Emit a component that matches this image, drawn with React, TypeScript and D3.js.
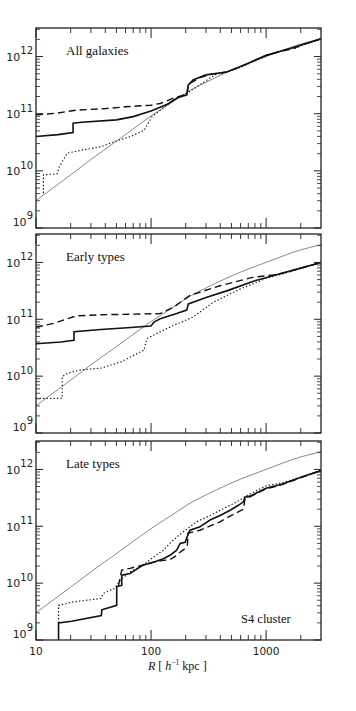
import React from 'react';
import * as d3 from 'd3';

const W = 356;
const H = 711;
const X0 = 36;
const X1 = 321;
const panelTops = [28, 234, 441];
const panelBottoms = [228, 433, 640];

const xDomain: [number, number] = [10, 3000];
const yDomain: [number, number] = [1e9, 3.162e12];

const xMajorTicks = [10, 100, 1000];
const xTickLabels = ['10', '100', '1000'];
const yMajorExps = [9, 10, 11, 12];
const panelNames = ['All galaxies', 'Early types', 'Late types'];
const clusterLabel = 'S4 cluster';

type P = [number, number];

// thin model curve, identical in all panels: [R (h^-1 kpc), M]
const modelCurve: P[] = [
  [10, 3.02e9], [20, 8.51e9], [30, 1.58e10], [50, 3.31e10], [80, 6.61e10], [100, 9.12e10],
  [150, 1.55e11], [220, 2.57e11], [300, 3.55e11], [600, 6.76e11], [1000, 1.0e12],
  [2000, 1.66e12], [3000, 2.04e12],
];

// All galaxies
const allSolid: P[] = [
  [10, 4.0e10], [15.6, 4.3e10], [21, 4.7e10], [21, 6.8e10], [25, 7.1e10], [50, 7.8e10],
  [70, 8.9e10], [100, 1.12e11], [140, 1.48e11], [170, 1.9e11], [205, 2.14e11], [210, 3.16e11],
  [232, 3.89e11], [300, 4.79e11], [455, 5.37e11], [594, 6.61e11], [1000, 1.05e12],
  [1618, 1.38e12], [3000, 2.04e12],
];
const allDashed: P[] = [
  [10, 9.55e10], [15, 1.02e11], [22, 1.15e11], [40, 1.23e11], [60, 1.32e11], [100, 1.41e11],
  [120, 1.51e11], [155, 1.86e11], [175, 2.0e11], [205, 2.19e11], [212, 3.31e11], [266, 4.27e11],
  [330, 4.9e11], [455, 5.37e11], [594, 6.61e11], [1000, 1.05e12], [1400, 1.26e12],
  [1700, 1.35e12], [2000, 1.58e12], [3000, 2.04e12],
];
const allDotted: P[] = [
  [11.6, 4.07e9], [11.6, 8.51e9], [15.3, 8.9e9], [15.9, 1.17e10], [18.7, 2.04e10], [24.5, 2.29e10],
  [36.6, 2.63e10], [47.7, 3.24e10], [66.5, 3.98e10], [86.9, 5.13e10], [102, 8.91e10],
  [120, 1.15e11], [155, 1.74e11], [205, 2.29e11], [307, 3.89e11], [360, 4.79e11], [455, 5.37e11],
  [594, 6.46e11], [1000, 1.02e12], [1500, 1.35e12], [1800, 1.41e12], [2200, 1.66e12], [3000, 2.04e12],
];

// Early types
const earlySolid: P[] = [
  [10, 3.72e10], [16.4, 3.98e10], [21.4, 4.27e10], [21.4, 6.03e10], [36.6, 6.61e10], [62, 7.08e10],
  [100, 7.59e10], [106, 8.91e10], [120, 1.02e11], [167, 1.26e11], [204, 1.45e11], [211, 1.86e11],
  [305, 2.45e11], [455, 3.16e11], [776, 4.68e11], [1324, 6.31e11], [2000, 7.94e11], [3000, 1.0e12],
];
const earlyDashed: P[] = [
  [10, 7.24e10], [14.4, 8.5e10], [18, 1.0e11], [22.6, 1.15e11], [36.6, 1.2e11], [120, 1.26e11],
  [156, 1.62e11], [218, 2.63e11], [398, 3.89e11], [776, 5.5e11], [1156, 6.03e11], [1324, 6.31e11],
  [2000, 7.94e11], [3000, 1.0e12],
];
const earlyDotted: P[] = [
  [10, 4.07e9], [16.9, 4.07e9], [16.9, 9.77e9], [18.7, 1.12e10], [24.5, 1.29e10], [36.6, 1.38e10],
  [54.6, 1.78e10], [86.9, 2.88e10], [92, 4.57e10], [112, 5.62e10], [156, 7.76e10], [233, 1.1e11],
  [348, 2.0e11], [594, 3.39e11], [1000, 5.25e11], [1514, 6.61e11], [2000, 7.94e11], [3000, 1.0e12],
];

// Late types
const lateSolid: P[] = [
  [15.7, 1.0e9], [15.7, 2.0e9], [20.4, 2.14e9], [37, 2.69e9], [37.3, 3.39e9], [50.3, 4.07e9],
  [50.3, 8.71e9], [55.6, 9.12e9], [55.6, 1.38e10], [65.6, 1.48e10], [80, 1.91e10], [86, 2.09e10],
  [105, 2.34e10], [128, 2.69e10], [146, 3.09e10], [167, 3.8e10], [179, 5.01e10], [198, 5.25e10],
  [211, 7.41e10], [218, 8.51e10], [266, 9.77e10], [326, 1.29e11], [398, 1.55e11], [487, 1.91e11],
  [574, 2.34e11], [635, 2.69e11], [656, 3.24e11], [727, 3.39e11], [1000, 4.68e11], [1413, 5.62e11],
  [1977, 7.24e11], [3000, 9.55e11],
];
const lateDashed: P[] = [
  [52, 8.91e9], [55.6, 1.7e10], [65.6, 1.82e10], [85.7, 2.09e10], [105, 2.34e10], [128, 2.51e10],
  [145, 2.57e10], [162, 2.95e10], [170, 3.24e10], [198, 4.07e10], [207, 4.68e10], [210, 7.59e10],
  [266, 8.51e10], [305, 9.55e10], [398, 1.2e11], [487, 1.51e11], [594, 1.86e11], [640, 2.0e11],
  [650, 2.88e11], [727, 3.31e11], [1000, 4.57e11], [1200, 5.01e11], [1413, 5.5e11], [1977, 7.08e11],
  [3000, 9.55e11],
];
const lateDotted: P[] = [
  [15.7, 2.0e9], [15.7, 4.07e9], [21.1, 4.68e9], [36.6, 5.37e9], [38.5, 6.61e9], [48.6, 8.13e9],
  [53.7, 1.12e10], [65.6, 1.58e10], [85.7, 2.09e10], [105, 2.88e10], [128, 3.8e10], [146, 5.01e10],
  [167, 6.46e10], [198, 8.51e10], [249, 1.2e11], [326, 1.55e11], [425, 2.04e11], [556, 2.69e11],
  [679, 3.47e11], [1000, 5.13e11], [1400, 5.89e11], [1977, 7.24e11], [3000, 9.55e11],
];

const panelSeries = [
  { solid: allSolid, dashed: allDashed, dotted: allDotted },
  { solid: earlySolid, dashed: earlyDashed, dotted: earlyDotted },
  { solid: lateSolid, dashed: lateDashed, dotted: lateDotted },
];

const TICK_FONT = "'DejaVu Sans', sans-serif";
const SERIF = "'Liberation Serif', 'Times New Roman', serif";

function Panel({ idx }: { idx: number }) {
  const top = panelTops[idx];
  const bottom = panelBottoms[idx];
  const x = d3.scaleLog().domain(xDomain).range([X0, X1]);
  const y = d3.scaleLog().domain(yDomain).range([bottom, top]);
  const lin = d3.line<P>().x((d) => x(d[0])).y((d) => y(d[1]));
  const smooth = d3.line<P>().x((d) => x(d[0])).y((d) => y(d[1])).curve(d3.curveMonotoneX);
  const s = panelSeries[idx];
  const clipId = `clip${idx}`;

  const xMinor: number[] = [];
  for (let e = 1; e <= 3; e++) {
    for (let m = 2; m <= 9; m++) {
      const v = m * Math.pow(10, e);
      if (v < xDomain[1]) xMinor.push(v);
    }
  }
  const yMinor: number[] = [];
  for (let e = 9; e <= 12; e++) {
    for (let m = 2; m <= 9; m++) {
      const v = m * Math.pow(10, e);
      if (v < yDomain[1]) yMinor.push(v);
    }
  }
  const stroke = '#222';
  return (
    <g>
      <defs>
        <clipPath id={clipId}>
          <rect x={X0} y={top} width={X1 - X0} height={bottom - top} />
        </clipPath>
      </defs>
      <g clipPath={`url(#${clipId})`}>
        <path d={smooth(modelCurve) || ''} fill="none" stroke="#555" strokeWidth={0.7} />
        <path d={lin(s.dotted) || ''} fill="none" stroke="#111" strokeWidth={1.2} strokeDasharray="1.3,2.2" />
        <path d={lin(s.dashed) || ''} fill="none" stroke="#111" strokeWidth={1.4} strokeDasharray="7,4" />
        <path d={lin(s.solid) || ''} fill="none" stroke="#111" strokeWidth={1.6} />
      </g>
      {xMajorTicks.map((t) => (
        <g key={`xm${t}`}>
          <line x1={x(t)} x2={x(t)} y1={top} y2={top + 10} stroke={stroke} strokeWidth={1} />
          <line x1={x(t)} x2={x(t)} y1={bottom} y2={bottom - 10} stroke={stroke} strokeWidth={1} />
        </g>
      ))}
      {xMinor.map((t) => (
        <g key={`xn${t}`}>
          <line x1={x(t)} x2={x(t)} y1={top} y2={top + 5} stroke={stroke} strokeWidth={0.9} />
          <line x1={x(t)} x2={x(t)} y1={bottom} y2={bottom - 5} stroke={stroke} strokeWidth={0.9} />
        </g>
      ))}
      {yMajorExps.map((e) => {
        const yy = y(Math.pow(10, e));
        return (
          <g key={`ym${e}`}>
            <line x1={X0} x2={X0 + 7} y1={yy} y2={yy} stroke={stroke} strokeWidth={1} />
            <line x1={X1} x2={X1 - 7} y1={yy} y2={yy} stroke={stroke} strokeWidth={1} />
          </g>
        );
      })}
      {yMinor.map((t) => (
        <g key={`yn${t}`}>
          <line x1={X0} x2={X0 + 4} y1={y(t)} y2={y(t)} stroke={stroke} strokeWidth={0.8} />
          <line x1={X1} x2={X1 - 4} y1={y(t)} y2={y(t)} stroke={stroke} strokeWidth={0.8} />
        </g>
      ))}
      <rect x={X0} y={top} width={X1 - X0} height={bottom - top} fill="none" stroke={stroke} strokeWidth={1.3} />
      {yMajorExps.map((e) => {
        const yy = y(Math.pow(10, e));
        const base = e === 9 ? bottom - 2.5 : yy + 4.3;
        return (
          <text key={`yl${e}`} x={33} y={base} textAnchor="end" fontFamily={TICK_FONT} fontSize={11} fill="#222">
            <tspan>10</tspan>
            <tspan dy={-6.5} fontSize={10}>{String(e)}</tspan>
          </text>
        );
      })}
      <text x={66} y={top + 27} fontFamily={SERIF} fontSize={13} fill="#111">{panelNames[idx]}</text>
      {idx === 2 && (
        <text x={241} y={623} fontFamily={SERIF} fontSize={12.5} fill="#111">{clusterLabel}</text>
      )}
      {idx === 2 &&
        xMajorTicks.map((t, i) => (
          <text key={`xl${t}`} x={x(t)} y={655} textAnchor="middle" fontFamily={TICK_FONT} fontSize={10.5} fill="#222">
            {xTickLabels[i]}
          </text>
        ))}
    </g>
  );
}

export default function App() {
  return (
    <svg width={W} height={H} style={{ position: 'absolute', left: 0, top: 0, background: '#fff' }}>
      <rect x={0} y={0} width={W} height={H} fill="#fff" />
      {[0, 1, 2].map((i) => (
        <Panel key={i} idx={i} />
      ))}
      <text x={148} y={670} fontFamily={SERIF} fontSize={12} fill="#111">
        <tspan fontStyle="italic">R</tspan>
        <tspan> [ </tspan>
        <tspan fontStyle="italic">h</tspan>
        <tspan dy={-5} fontSize={7.5}>−1</tspan>
        <tspan dy={5}> kpc ]</tspan>
      </text>
    </svg>
  );
}
